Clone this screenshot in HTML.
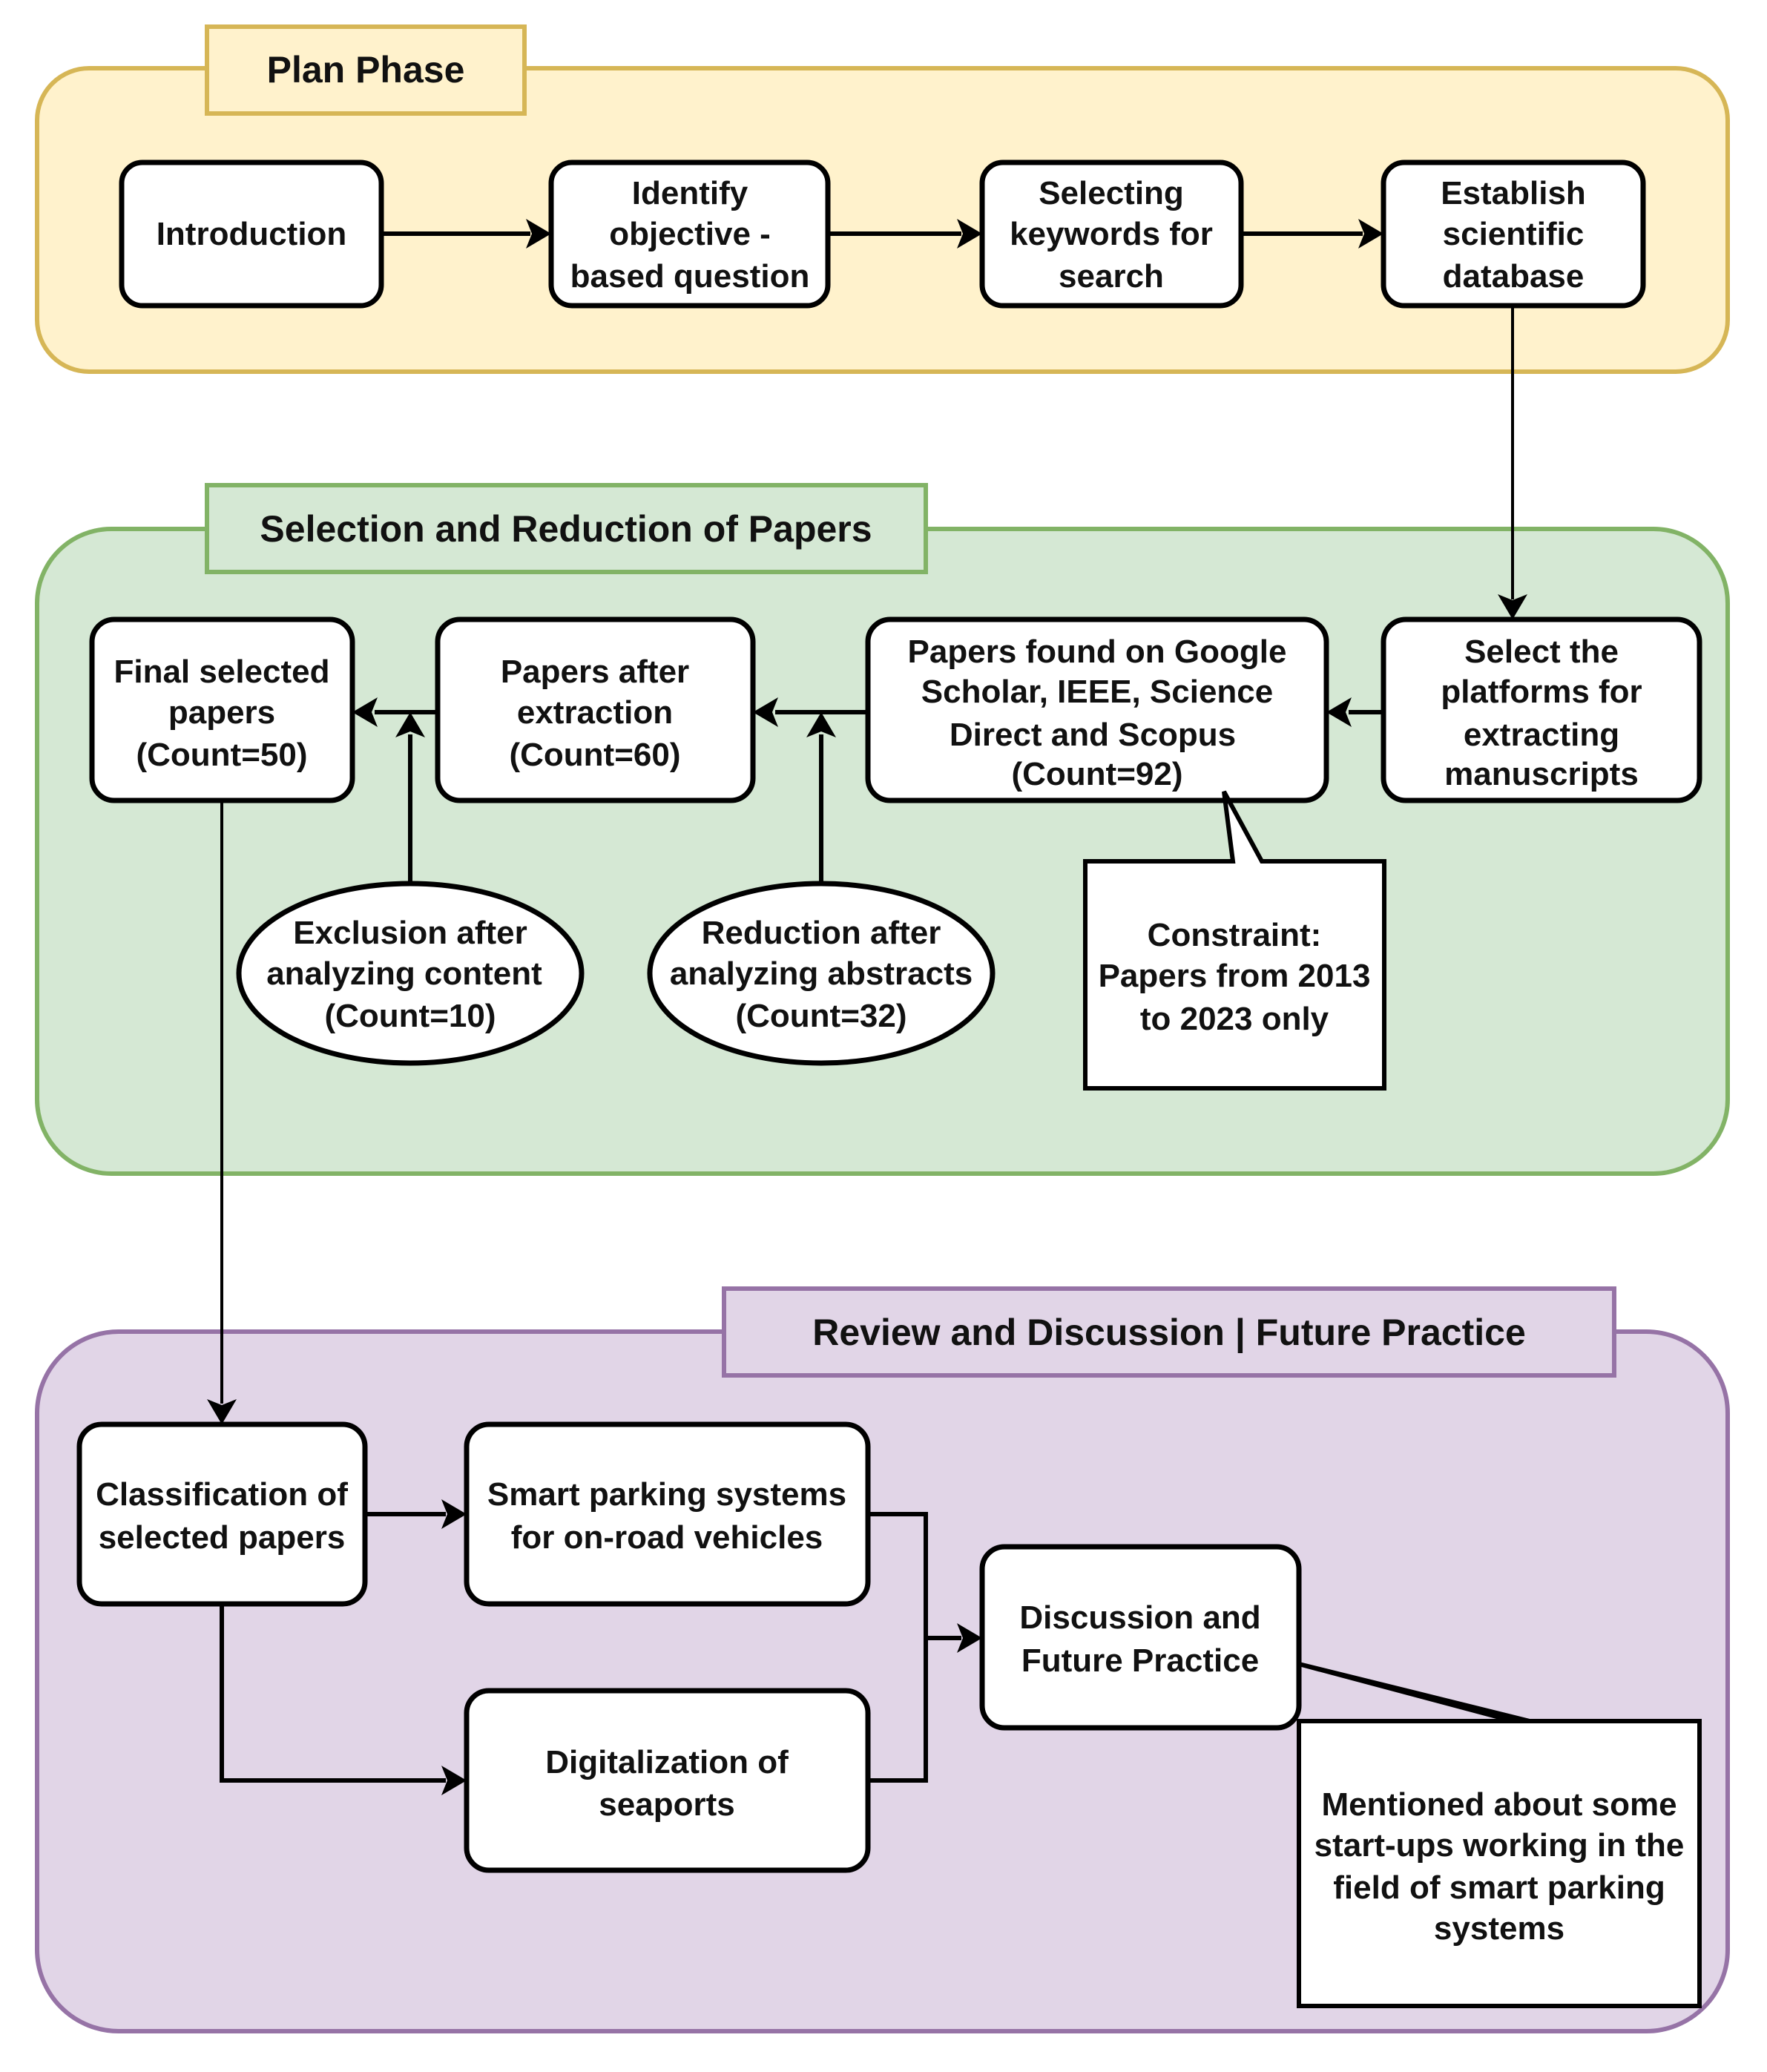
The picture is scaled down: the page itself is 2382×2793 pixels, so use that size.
<!DOCTYPE html>
<html><head><meta charset="utf-8"><style>
html,body{margin:0;padding:0;background:#fff}
svg{display:block}
text{font-family:"Liberation Sans",Arial,sans-serif;font-weight:bold;font-size:44px;fill:#111;text-anchor:middle}
.t{font-size:50px}
</style></head><body>
<svg width="2382" height="2793" viewBox="0 0 2382 2793" xmlns="http://www.w3.org/2000/svg">
<defs>
<marker id="a" markerWidth="12" markerHeight="12" refX="10" refY="6" orient="auto" markerUnits="userSpaceOnUse" viewBox="0 0 12 12">
</marker>
</defs>
<!-- containers -->
<rect x="50" y="92" width="2279" height="409" rx="70" fill="#fff2cc" stroke="#d6b656" stroke-width="6"/>
<rect x="279" y="36" width="428" height="117" fill="#fff2cc" stroke="#d6b656" stroke-width="6"/>
<text class="t" x="493" y="111">Plan Phase</text>

<rect x="50" y="713" width="2279" height="869" rx="100" fill="#d5e8d4" stroke="#82b366" stroke-width="6"/>
<rect x="279" y="654" width="969" height="117" fill="#d5e8d4" stroke="#82b366" stroke-width="6"/>
<text class="t" x="763" y="730">Selection and Reduction of Papers</text>

<rect x="50" y="1795" width="2279" height="943" rx="110" fill="#e1d5e7" stroke="#9673a6" stroke-width="6"/>
<rect x="976" y="1737" width="1200" height="117" fill="#e1d5e7" stroke="#9673a6" stroke-width="6"/>
<text class="t" x="1576" y="1813">Review and Discussion | Future Practice</text>

<g fill="#fff" stroke="#000" stroke-width="7">
<rect x="164" y="219" width="350" height="193" rx="28"/>
<rect x="743" y="219" width="373" height="193" rx="28"/>
<rect x="1324" y="219" width="349" height="193" rx="28"/>
<rect x="1865" y="219" width="350" height="193" rx="28"/>
<rect x="124" y="835" width="351" height="244" rx="30"/>
<rect x="590" y="835" width="425" height="244" rx="30"/>
<rect x="1170" y="835" width="618" height="244" rx="30"/>
<rect x="1865" y="835" width="426" height="244" rx="30"/>
<ellipse cx="553" cy="1312" rx="231" ry="121"/>
<ellipse cx="1107" cy="1312" rx="231" ry="121"/>
<path d="M1463 1161 H1662 L1650 1067 L1701 1161 H1866 V1467 H1463 Z" stroke-width="6"/>
<rect x="107" y="1920" width="385" height="242" rx="30"/>
<rect x="629" y="1920" width="541" height="242" rx="30"/>
<rect x="629" y="2279" width="541" height="242" rx="30"/>
<rect x="1324" y="2085" width="427" height="244" rx="30"/>
<path d="M1751 2243 L2062 2320 L2040 2320 Z" stroke-width="6"/>
<rect x="1751" y="2320" width="540" height="384" stroke-width="6"/>
</g>

<!-- connectors -->
<g stroke="#000" fill="none" stroke-width="6">
<path d="M514 315 H715"/><path d="M1116 315 H1296"/><path d="M1673 315 H1837"/>
<path d="M2039 412 V808" stroke-width="4"/>
<path d="M1865 960 H1818"/><path d="M1170 960 H1045"/><path d="M590 960 H505"/>
<path d="M553 1191 V990"/><path d="M1107 1191 V990"/>
<path d="M299 1079 V1892" stroke-width="4"/>
<path d="M492 2041 H601"/>
<path d="M299 2162 V2400 H601"/>
<path d="M1170 2041 H1248 V2400 H1170"/>
<path d="M1248 2208 H1296"/>
</g>
<g fill="#000">
<path d="M743 315 l-34 -20 l8 20 l-8 20 z"/>
<path d="M1324 315 l-34 -20 l8 20 l-8 20 z"/>
<path d="M1865 315 l-34 -20 l8 20 l-8 20 z"/>
<path d="M2039 835 l-20 -34 l20 8 l20 -8 z"/>
<path d="M1788 960 l34 -20 l-8 20 l8 20 z"/>
<path d="M1015 960 l34 -20 l-8 20 l8 20 z"/>
<path d="M475 960 l34 -20 l-8 20 l8 20 z"/>
<path d="M553 960 l-20 34 l20 -8 l20 8 z"/>
<path d="M1107 960 l-20 34 l20 -8 l20 8 z"/>
<path d="M299 1920 l-20 -34 l20 8 l20 -8 z"/>
<path d="M629 2041 l-34 -20 l8 20 l-8 20 z"/>
<path d="M629 2400 l-34 -20 l8 20 l-8 20 z"/>
<path d="M1324 2208 l-34 -20 l8 20 l-8 20 z"/>
</g>

<!-- labels -->
<text x="339" y="330">Introduction</text>
<text x="930" y="275">Identify</text><text x="930" y="330">objective -</text><text x="930" y="387">based question</text>
<text x="1498" y="275">Selecting</text><text x="1498" y="330">keywords for</text><text x="1498" y="387">search</text>
<text x="2040" y="275">Establish</text><text x="2040" y="330">scientific</text><text x="2040" y="387">database</text>

<text x="299" y="920">Final selected</text><text x="299" y="975">papers</text><text x="299" y="1032">(Count=50)</text>
<text x="802" y="920">Papers after</text><text x="802" y="975">extraction</text><text x="802" y="1032">(Count=60)</text>
<text x="1479" y="893">Papers found on Google</text><text x="1479" y="947">Scholar, IEEE, Science</text><text x="1473" y="1005">Direct and Scopus</text><text x="1479" y="1058">(Count=92)</text>
<text x="2078" y="893">Select the</text><text x="2078" y="947">platforms for</text><text x="2078" y="1005">extracting</text><text x="2078" y="1058">manuscripts</text>

<text x="553" y="1272">Exclusion after</text><text x="545" y="1327">analyzing content</text><text x="553" y="1384">(Count=10)</text>
<text x="1107" y="1272">Reduction after</text><text x="1107" y="1327">analyzing abstracts</text><text x="1107" y="1384">(Count=32)</text>
<text x="1664" y="1275">Constraint:</text><text x="1664" y="1330">Papers from 2013</text><text x="1664" y="1388">to 2023 only</text>

<text x="299" y="2029">Classification of</text><text x="299" y="2087">selected papers</text>
<text x="899" y="2029">Smart parking systems</text><text x="899" y="2087">for on-road vehicles</text>
<text x="899" y="2390">Digitalization of</text><text x="899" y="2447">seaports</text>
<text x="1537" y="2195">Discussion and</text><text x="1537" y="2253">Future Practice</text>
<text x="2021" y="2447">Mentioned about some</text><text x="2021" y="2502">start-ups working in the</text><text x="2021" y="2559">field of smart parking</text><text x="2021" y="2614">systems</text>
</svg>
</body></html>
